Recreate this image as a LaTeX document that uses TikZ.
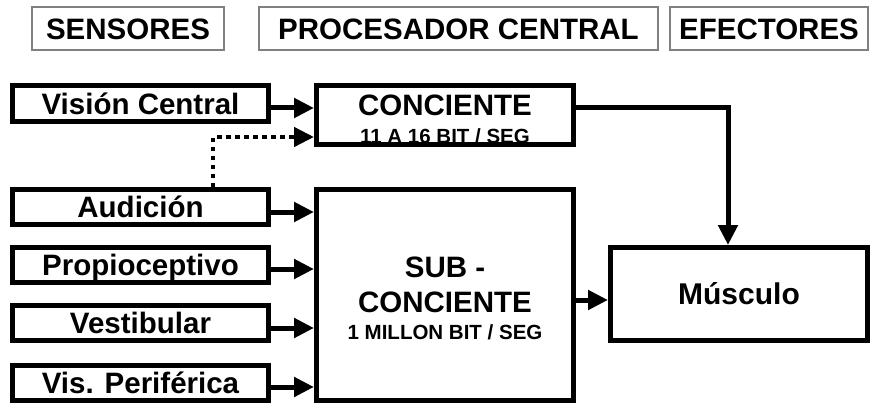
\documentclass[tikz,border=0pt]{standalone}
\usepackage{fontspec}
\setmainfont{Liberation Sans}
\usetikzlibrary{arrows.meta}
\begin{document}
\begin{tikzpicture}[x=1pt,y=-1pt,
  hdr/.style={draw=black!50, line width=1.3pt, inner sep=0pt, text height=21.1pt, text depth=0pt,
    font=\fontsize{29.5}{30}\selectfont\bfseries},
  blk/.style={draw=black, line width=5pt, inner sep=0pt, fill=white},
  sens/.style={blk, minimum width=256pt, minimum height=35pt, text height=21.1pt, text depth=0pt,
    font=\fontsize{29.5}{30}\selectfont\bfseries},
  big/.style={inner sep=0pt, text height=21.1pt, text depth=0pt, font=\fontsize{29.5}{30}\selectfont\bfseries},
  small/.style={inner sep=0pt, text height=14.7pt, text depth=0pt, font=\fontsize{20.5}{21}\selectfont\bfseries},
  arr/.style={line width=5pt, -{Triangle[length=20pt,width=19pt]}},
  dotarr/.style={line width=4.5pt, dash pattern=on 4.5pt off 4.5pt, -{Triangle[length=20pt,width=19pt]}},
]
\useasboundingbox (0,0) rectangle (871,404);
% headers
\node[hdr, minimum width=192pt, minimum height=43pt] (hs) at (128,28.5) {SENSORES};
\node[hdr, minimum width=399pt, minimum height=43pt] (hp) at (458.5,28.5) {PROCESADOR CENTRAL};
\node[hdr, minimum width=198pt, minimum height=43pt] (he) at (769,28.5) {EFECTORES};
% sensors
\node[sens, minimum height=36pt] (vis) at (140.5,103.5) {Visión Central};
\node[sens] (aud) at (140.5,207) {Audición};
\node[sens] (pro) at (140.5,265) {Propioceptivo};
\node[sens] (ves) at (140.5,323) {Vestibular};
\node[sens] (per) at (140.5,383) {Vis. Periférica};
% processor
\node[blk, minimum width=257pt, minimum height=59pt] (con) at (445,115) {};
\node[big] (conT) at (445,105) {CONCIENTE};
\node[small] (conS) at (445,136) {11 A 16 BIT / SEG};
\node[blk, minimum width=257pt, minimum height=211pt] (sub) at (445,295) {};
\node[big] (subA) at (445,267) {SUB -};
\node[big] (subB) at (445,302) {CONCIENTE};
\node[small] (subC) at (445,332) {1 MILLON BIT / SEG};
% effector
\node[blk, minimum width=257pt, minimum height=93pt, text height=21.5pt, text depth=0pt,
  font=\fontsize{30}{30}\selectfont\bfseries] (mus) at (739,294) {Músculo};
% connectors
\draw[arr] ([yshift=-4.5pt]vis.east) -- ([yshift=-4.5pt]vis.east -| con.west);
\draw[arr] ([yshift=-5pt]aud.east) -- ([yshift=-5pt]aud.east -| sub.west);
\draw[arr] ([yshift=-4pt]pro.east) -- ([yshift=-4pt]pro.east -| sub.west);
\draw[arr] ([yshift=-5pt]ves.east) -- ([yshift=-5pt]ves.east -| sub.west);
\draw[arr] ([yshift=-4pt]per.east) -- ([yshift=-4pt]per.east -| sub.west);
\draw[dotarr] ([xshift=72.5pt]aud.north) |- ([yshift=-22pt]con.west);
\draw[arr] ([yshift=-5pt]sub.east) -- ([yshift=-5pt]sub.east -| mus.west);
\draw[arr] ([yshift=7pt]con.east) -| ([xshift=-11pt]mus.north);
\end{tikzpicture}
\end{document}
